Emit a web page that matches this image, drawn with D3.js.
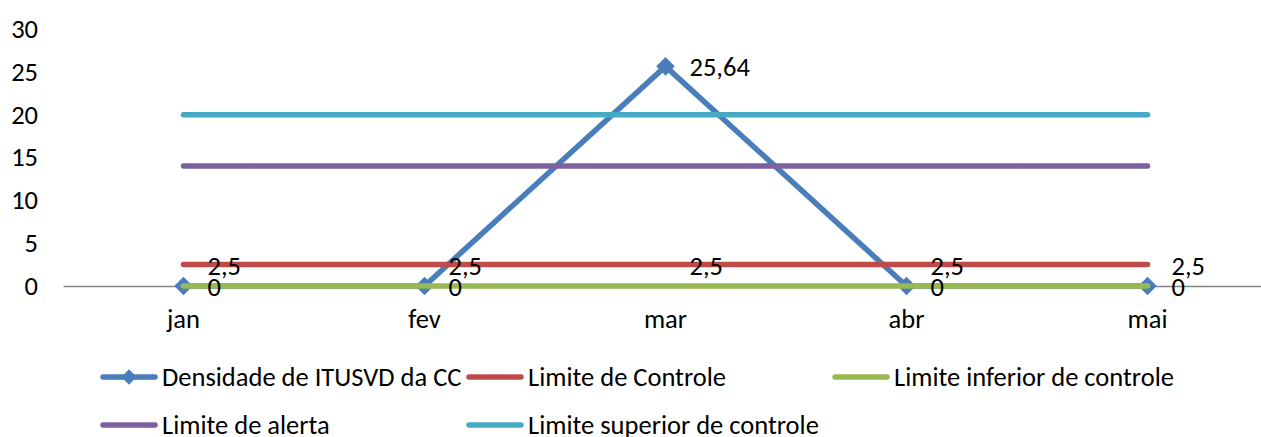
<!DOCTYPE html>
<html>
<head>
<meta charset="utf-8">
<script src="https://cdn.jsdelivr.net/npm/d3@7"></script>
<style>
  html, body { margin: 0; padding: 0; background: #fff; }
  svg { display: block; font-family: Calibri, Carlito, Lato, sans-serif; }
  text { fill: #000; }
</style>
</head>
<body>
<svg id="chart" width="1261" height="437"></svg>
<script>
// Categories (months) and series values
const months = ["jan", "fev", "mar", "abr", "mai"];
const densidade = [0, 0, 25.64, 0, 0];
const limiteControle = [2.5, 2.5, 2.5, 2.5, 2.5];
const limiteInferior = [0, 0, 0, 0, 0];
const limiteAlerta = [14, 14, 14, 14, 14];
const limiteSuperior = [20, 20, 20, 20, 20];
const yTicks = [0, 5, 10, 15, 20, 25, 30];

const seriesNames = [
  "Densidade de ITUSVD da CC",
  "Limite de Controle",
  "Limite inferior de controle",
  "Limite de alerta",
  "Limite superior de controle"
];
const seriesColors = ["#4A7EBB", "#BE4B48", "#98B954", "#7D60A0", "#46AAC5"];

const series = [
  { name: seriesNames[0], values: densidade, color: seriesColors[0], marker: true, labels: true },
  { name: seriesNames[1], values: limiteControle, color: seriesColors[1], marker: false, labels: true },
  { name: seriesNames[2], values: limiteInferior, color: seriesColors[2], marker: false, labels: false },
  { name: seriesNames[3], values: limiteAlerta, color: seriesColors[3], marker: false, labels: false },
  { name: seriesNames[4], values: limiteSuperior, color: seriesColors[4], marker: false, labels: false }
];

const FONT = 26.5;
const svg = d3.select("#chart");

const plotLeft = 63, plotRight = 1268, plotTop = 29, plotBottom = 286;

const x = d3.scaleBand().domain(months).range([plotLeft, plotRight]);
const cx = m => x(m) + x.bandwidth() / 2;
const y = d3.scaleLinear().domain([0, 30]).range([plotBottom, plotTop]);

// Value axis: labels only
const yAxis = svg.append("g")
  .attr("transform", `translate(${plotLeft},0)`)
  .call(d3.axisLeft(y).tickValues(yTicks).tickSize(0).tickPadding(25).tickFormat(d3.format("d")))
  .attr("font-family", null)
  .attr("font-size", FONT);
yAxis.select(".domain").remove();
yAxis.selectAll("text").attr("dy", "0.32em");

// Category axis along zero
const xAxis = svg.append("g")
  .attr("transform", `translate(0,${y(0)})`)
  .call(d3.axisBottom(x).tickSize(0))
  .attr("font-family", null)
  .attr("font-size", FONT);
xAxis.select(".domain").attr("stroke", "#868686").attr("stroke-width", 1.3);
xAxis.selectAll("text")
  .attr("dy", null)
  .attr("y", 42);

// Lines
const line = d3.line()
  .x((d, i) => cx(months[i]))
  .y(d => y(d));

const diamond = d3.symbol().type(d3.symbolDiamond2);

series.forEach(s => {
  const g = svg.append("g");
  g.append("path")
    .datum(s.values)
    .attr("d", line)
    .attr("fill", "none")
    .attr("stroke", s.color)
    .attr("stroke-width", 5.5)
    .attr("stroke-linecap", "round")
    .attr("stroke-linejoin", "round");
  if (s.marker) {
    g.selectAll("path.mk")
      .data(s.values)
      .join("path")
      .attr("class", "mk")
      .attr("d", diamond.size(220)())
      .attr("transform", (d, i) => `translate(${cx(months[i])},${y(d)})`)
      .attr("fill", s.color);
  }
});

// Data labels
const fmt = v => String(v).replace(".", ",");
series.filter(s => s.labels).forEach(s => {
  svg.append("g")
    .selectAll("text")
    .data(s.values)
    .join("text")
    .attr("x", (d, i) => cx(months[i]) + 24)
    .attr("y", d => y(d) + 10)
    .attr("font-size", FONT)
    .text(d => fmt(d));
});

// Legend
const legendCols = [103, 469, 835];
const legendRows = [377, 425];
const legend = svg.append("g")
  .selectAll("g")
  .data(series)
  .join("g")
  .attr("transform", (d, i) => `translate(${legendCols[i % 3]},${legendRows[Math.floor(i / 3)]})`);
legend.append("line")
  .attr("x1", 0).attr("x2", 52).attr("y1", 0).attr("y2", 0)
  .attr("stroke", d => d.color)
  .attr("stroke-width", 5.5)
  .attr("stroke-linecap", "round");
legend.filter(d => d.marker)
  .append("path")
  .attr("d", diamond.size(150)())
  .attr("transform", "translate(26,0)")
  .attr("fill", d => d.color);
legend.append("text")
  .attr("x", 59)
  .attr("y", 8.5)
  .attr("font-size", FONT)
  .text(d => d.name);
</script>
</body>
</html>
